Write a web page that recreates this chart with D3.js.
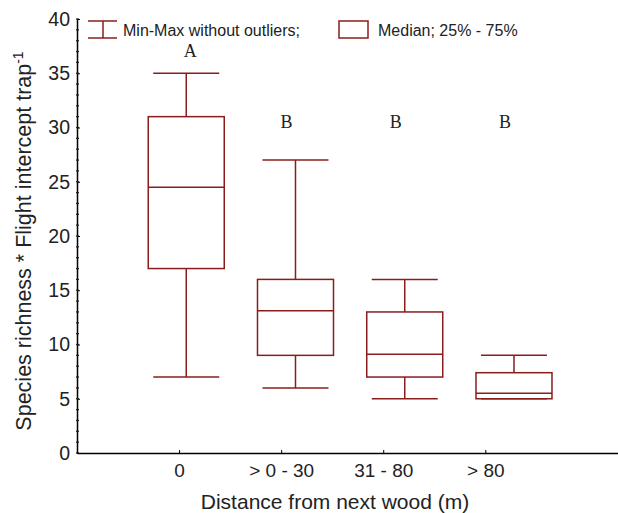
<!DOCTYPE html>
<html>
<head>
<meta charset="utf-8">
<script src="https://cdn.jsdelivr.net/npm/d3@7"></script>
<style>
  body { margin: 0; background: #fff; }
  svg text { font-family: 'Liberation Sans', Arial, sans-serif; fill: #222; }
  .letter { font-family: 'Liberation Serif', 'Times New Roman', serif !important; }
</style>
</head>
<body>
<svg id="chart"></svg>
<script>
const BOX_COLOR = '#8b1c1c'

// data
const categories = ['0', '> 0 - 30', '31 - 80', '> 80']
const whiskerMin = [7, 6, 5, 5]
const q1 = [17, 9, 7, 5]
const median = [24.5, 13.1, 9.1, 5.5]
const q3 = [31, 16, 13, 7.4]
const whiskerMax = [35, 27, 16, 9]
const groupLetters = ['A', 'B', 'B', 'B']
const letterLevel = [36.5, 30, 30, 30]
const yTicks = [0, 5, 10, 15, 20, 25, 30, 35, 40]

const width = 618, height = 513
const margin = {top: 19, left: 77, bottom: 60}

const svg = d3.select('#chart')
  .attr('width', width)
  .attr('height', height)

const yScale = d3.scaleLinear()
  .domain([0, 40])
  .range([height - margin.bottom, margin.top])

// category ticks
const xScale = d3.scaleLinear()
  .domain([-1, 4.3])
  .range([margin.left, width])

// boxes sit on a slightly wider spacing than the ticks
const boxScale = d3.scaleLinear()
  .domain([-1, 4.3])
  .range([margin.left, 656])

const boxWidth = 76
const capWidth = 66

// y axis
const yAxis = d3.axisLeft(yScale)
  .tickValues(yTicks)
  .tickSize(-3)
  .tickPadding(7)
  .tickSizeOuter(0)

const yAxisG = svg.append('g')
  .attr('transform', `translate(${margin.left},0)`)
  .call(yAxis)
yAxisG.selectAll('text').style('font-size', '19.5px')
yAxisG.select('.domain').attr('stroke-width', 1.5)

// minor ticks every unit
svg.append('g')
  .selectAll('line')
  .data(d3.range(0, 41))
  .join('line')
  .attr('x1', margin.left - 1)
  .attr('x2', margin.left + 2)
  .attr('y1', d => yScale(d))
  .attr('y2', d => yScale(d))
  .attr('stroke', '#222')
  .attr('stroke-width', 1.3)

// x axis
const xAxis = d3.axisBottom(xScale)
  .tickValues(d3.range(categories.length))
  .tickFormat(i => categories[i])
  .tickSize(-3)
  .tickPadding(11)
  .tickSizeOuter(0)

const xAxisG = svg.append('g')
  .attr('transform', `translate(0,${yScale(0)})`)
  .call(xAxis)
xAxisG.selectAll('text').style('font-size', '19px')
xAxisG.select('.domain').attr('stroke-width', 1.5)

// axis titles
svg.append('text')
  .attr('x', 335)
  .attr('y', 509)
  .attr('text-anchor', 'middle')
  .style('font-size', '21px')
  .text('Distance from next wood (m)')

const yTitle = svg.append('text')
  .attr('transform', `translate(31,${yScale(20) + 5}) rotate(-90)`)
  .attr('text-anchor', 'middle')
  .style('font-size', '21.5px')
yTitle.append('tspan').text('Species richness * Flight intercept trap')
yTitle.append('tspan').attr('dy', -8).style('font-size', '14px').text('-1')

// boxes
const boxes = svg.append('g')
  .attr('stroke', BOX_COLOR)
  .attr('stroke-width', 1.5)
  .attr('fill', 'none')

const groups = boxes.selectAll('g')
  .data(categories.map((c, i) => ({i, min: whiskerMin[i], q1: q1[i], med: median[i], q3: q3[i], max: whiskerMax[i]})))
  .join('g')

groups.append('line')
  .attr('x1', d => boxScale(d.i)).attr('x2', d => boxScale(d.i))
  .attr('y1', d => yScale(d.q3)).attr('y2', d => yScale(d.max))
groups.append('line')
  .attr('x1', d => boxScale(d.i)).attr('x2', d => boxScale(d.i))
  .attr('y1', d => yScale(d.q1)).attr('y2', d => yScale(d.min))
groups.selectAll('.cap')
  .data(d => [d.min, d.max].map(v => ({i: d.i, v})))
  .join('line')
  .attr('class', 'cap')
  .attr('x1', d => boxScale(d.i) - capWidth / 2)
  .attr('x2', d => boxScale(d.i) + capWidth / 2)
  .attr('y1', d => yScale(d.v)).attr('y2', d => yScale(d.v))
groups.append('rect')
  .attr('x', d => boxScale(d.i) - boxWidth / 2)
  .attr('width', boxWidth)
  .attr('y', d => yScale(d.q3))
  .attr('height', d => yScale(d.q1) - yScale(d.q3))
groups.append('line')
  .attr('x1', d => boxScale(d.i) - boxWidth / 2)
  .attr('x2', d => boxScale(d.i) + boxWidth / 2)
  .attr('y1', d => yScale(d.med)).attr('y2', d => yScale(d.med))

// significance letters
svg.append('g')
  .selectAll('text')
  .data(groupLetters)
  .join('text')
  .attr('class', 'letter')
  .attr('x', (d, i) => boxScale(i) - (i === 0 ? -4 : 9))
  .attr('y', (d, i) => yScale(letterLevel[i]))
  .attr('text-anchor', 'middle')
  .style('font-size', '18px')
  .text(d => d)

// legend
const legend = svg.append('g')
legend.append('g')
  .attr('stroke', BOX_COLOR)
  .attr('stroke-width', 1.5)
  .call(g => {
    g.append('line').attr('x1', 88).attr('x2', 117).attr('y1', 21).attr('y2', 21)
    g.append('line').attr('x1', 88).attr('x2', 117).attr('y1', 38).attr('y2', 38)
    g.append('line').attr('x1', 103).attr('x2', 103).attr('y1', 21).attr('y2', 38)
  })
legend.append('text')
  .attr('x', 123).attr('y', 36)
  .style('font-size', '16px')
  .text('Min-Max without outliers;')
legend.append('rect')
  .attr('x', 339).attr('y', 21).attr('width', 29).attr('height', 17)
  .attr('fill', 'none').attr('stroke', BOX_COLOR).attr('stroke-width', 1.5)
legend.append('text')
  .attr('x', 378).attr('y', 36)
  .style('font-size', '16px')
  .text('Median; 25% - 75%')
</script>
</body>
</html>
